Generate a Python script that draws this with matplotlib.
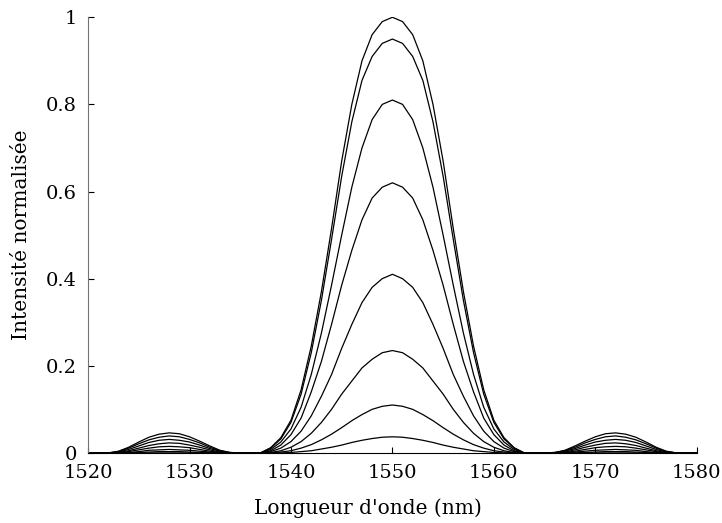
import numpy as np
import matplotlib
matplotlib.use('Agg')
import matplotlib.pyplot as plt

# wavelength grid (nm), 1 nm step
wavelength = np.arange(1520, 1581)

# normalised intensity, 1520 ... 1580 nm
c1 = [0, 0,
      0, .004, .013, .025, .036, .043, .046, .044, .037, .027, .016, .006, .001,
      0, 0,
      0, .012, .035, .075, .145, .245, .37, .515, .67, .80, .90, .96, .99, 1.0,
      .99, .96, .90, .80, .67, .515, .37, .245, .145, .075, .035, .012, 0,
      0, 0,
      .001, .006, .016, .027, .037, .044, .046, .043, .036, .025, .013, .004, 0,
      0, 0]
c2 = [0, 0,
      0, .003, .011, .021, .030, .036, .039, .037, .031, .023, .013, .005, .001,
      0, 0,
      0, .011, .032, .07, .135, .23, .35, .49, .635, .76, .855, .91, .94, .95,
      .94, .91, .855, .76, .635, .49, .35, .23, .135, .07, .032, .011, 0,
      0, 0,
      .001, .005, .013, .023, .031, .037, .039, .036, .030, .021, .011, .003, 0,
      0, 0]
c3 = [0, 0,
      0, .002, .008, .016, .024, .029, .031, .029, .025, .018, .010, .004, 0,
      0, 0,
      0, .008, .025, .055, .105, .18, .275, .385, .50, .61, .70, .765, .80, .81,
      .80, .765, .70, .61, .50, .385, .275, .18, .105, .055, .025, .008, 0,
      0, 0,
      0, .004, .010, .018, .025, .029, .031, .029, .024, .016, .008, .002, 0,
      0, 0]
c4 = [0, 0,
      0, .001, .005, .011, .017, .021, .023, .022, .018, .013, .007, .002, 0,
      0, 0,
      0, .005, .018, .042, .08, .14, .21, .295, .385, .465, .535, .585, .61, .62,
      .61, .585, .535, .465, .385, .295, .21, .14, .08, .042, .018, .005, 0,
      0, 0,
      0, .002, .007, .013, .018, .022, .023, .021, .017, .011, .005, .001, 0,
      0, 0]
c5 = [0, 0,
      0, 0, .003, .007, .011, .014, .015, .014, .012, .008, .004, .001, 0,
      0, 0,
      0, .003, .011, .026, .05, .085, .13, .18, .24, .295, .345, .38, .40, .41,
      .40, .38, .345, .295, .24, .18, .13, .085, .05, .026, .011, .003, 0,
      0, 0,
      0, .001, .004, .008, .012, .014, .015, .014, .011, .007, .003, 0, 0,
      0, 0]
c6 = [0, 0,
      0, 0, .001, .003, .006, .007, .008, .007, .006, .004, .002, 0, 0,
      0, 0,
      0, .001, .005, .013, .026, .045, .07, .10, .135, .165, .195, .215, .23, .235,
      .23, .215, .195, .165, .135, .10, .07, .045, .026, .013, .005, .001, 0,
      0, 0,
      0, 0, .002, .004, .006, .007, .008, .007, .006, .003, .001, 0, 0,
      0, 0]
c7 = [0, 0,
      0, 0, 0, .001, .002, .003, .003, .003, .002, .001, 0, 0, 0,
      0, 0,
      0, 0, .002, .005, .011, .019, .03, .043, .058, .074, .088, .10, .107, .11,
      .107, .10, .088, .074, .058, .043, .03, .019, .011, .005, .002, 0, 0,
      0, 0,
      0, 0, 0, .001, .002, .003, .003, .003, .002, .001, 0, 0, 0,
      0, 0]
c8 = [0, 0,
      0, 0, 0, 0, 0, 0, 0, 0, 0, 0, 0, 0, 0,
      0, 0,
      0, 0, 0, .001, .003, .005, .009, .013, .018, .024, .029, .033, .036, .037,
      .036, .033, .029, .024, .018, .013, .009, .005, .003, .001, 0, 0, 0,
      0, 0,
      0, 0, 0, 0, 0, 0, 0, 0, 0, 0, 0, 0, 0,
      0, 0]
curves = [c1, c2, c3, c4, c5, c6, c7, c8]

xticks = [1520, 1530, 1540, 1550, 1560, 1570, 1580]
yticks = [0, 0.2, 0.4, 0.6, 0.8, 1]
ytick_labels = ['0', '0.2', '0.4', '0.6', '0.8', '1']

plt.rcParams['font.family'] = 'DejaVu Serif'

fig = plt.figure(figsize=(7.22, 5.23), dpi=100)
fig.set_facecolor('w')
ax = fig.add_axes([0.122, 0.134, 0.843, 0.833])

for cc in curves:
    ax.plot(wavelength, cc, '-', color='k', lw=0.9)

ax.set_xlim(1520, 1580)
ax.set_ylim(0, 1)
ax.set_xticks(xticks)
ax.set_yticks(yticks)
ax.set_yticklabels(ytick_labels)
ax.tick_params(direction='in', length=4, labelsize=14, color='k')
ax.tick_params(axis='x', pad=8)
ax.tick_params(axis='y', pad=8)

for side in ['top', 'right']:
    ax.spines[side].set_visible(False)
ax.spines['left'].set_color('0.45')
ax.spines['bottom'].set_color('k')

ax.set_xlabel("Longueur d'onde (nm)", fontsize=14.5, labelpad=12)
ax.xaxis.set_label_coords(0.46, -0.105)
ax.set_ylabel('Intensité normalisée', fontsize=14.5, labelpad=11)

fig.savefig('out.png', dpi=100)
